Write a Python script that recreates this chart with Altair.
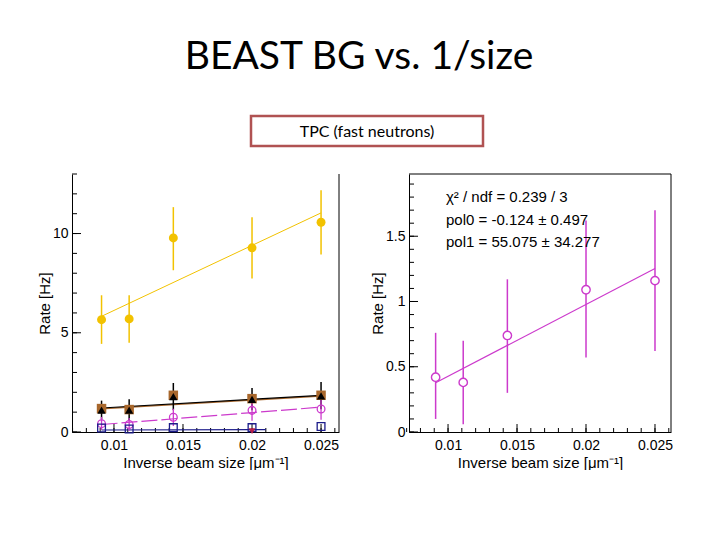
import altair as alt
import pandas as pd

# ---------------- data ----------------
x_vals = [0.0091, 0.0111, 0.0143, 0.0200, 0.0250]

yellow_y = [5.66, 5.70, 9.78, 9.28, 10.57]
yellow_lo = [4.44, 4.50, 8.15, 7.73, 8.94]
yellow_hi = [6.89, 6.89, 11.33, 10.82, 12.18]

brown_y = [1.18, 1.13, 1.85, 1.68, 1.85]

black_y = [1.10, 1.10, 1.78, 1.65, 1.82]
black_lo = [0.62, 0.58, 1.10, 1.10, 1.15]
black_hi = [1.58, 1.65, 2.47, 2.22, 2.52]

mag_y = [0.42, 0.38, 0.74, 1.09, 1.16]
mag_lo = [0.10, 0.06, 0.30, 0.57, 0.62]
mag_hi = [0.76, 0.70, 1.17, 1.62, 1.70]

blue_y = [0.20, 0.15, 0.22, 0.22, 0.28]

red_x = [0.0200]
red_y = [0.04]

fit_x = [0.0091, 0.0250]
yellow_fit_y = [5.83, 11.04]
black_fit_y = [1.21, 1.85]
brown_fit_y = [1.17, 1.81]
blue_fit_x = [0.0091, 0.0210]
blue_fit_y = [0.10, 0.12]

tpc_pol0 = -0.124
tpc_pol1 = 55.075
stats_lines = ["χ² / ndf = 0.239 / 3",
               "pol0 = -0.124 ± 0.497",
               "pol1 = 55.075 ± 34.277"]

x_labels = [0.01, 0.015, 0.02, 0.025]
x_minor = [round(0.007 + 0.001 * i, 3) for i in range(20)]
left_y_labels = [0, 5, 10]
left_y_minor = list(range(0, 14))
right_y_labels = [0, 0.5, 1, 1.5]
right_y_minor = [round(0.1 * i, 1) for i in range(20)]

main_title = "BEAST BG vs. 1/size"
box_title = "TPC (fast neutrons)"
x_title = "Inverse beam size [μm⁻¹]"
y_title = "Rate [Hz]"

# ---------------- styling ----------------
FONT = "Liberation Sans"
W_L, W_R, H = 267, 262, 258
YELLOW = "#f2c200"
MAG = "#cc3acc"
BROWN = "#a8672c"
NAVY = "#1c1c8a"
RED = "#b8204a"


def df(**cols):
    return pd.DataFrame(cols)


def make_panel(width, xdom, ydom, ylabels, yminor):
    xs = alt.Scale(domain=xdom, nice=False, zero=False)
    ys = alt.Scale(domain=ydom, nice=False, zero=False)
    xa = alt.Axis(values=x_labels, format="~r", ticks=False, grid=False,
                  domain=True, domainColor="black", domainWidth=1,
                  labelFont=FONT, labelFontSize=14, labelColor="black",
                  labelPadding=6, title=x_title, titleFont=FONT,
                  titleFontSize=15, titleFontWeight="normal",
                  titleColor="black", titlePadding=3)
    ya = alt.Axis(values=ylabels, format="~r", ticks=False, grid=False,
                  domain=True, domainColor="black", domainWidth=1,
                  labelFont=FONT, labelFontSize=14, labelColor="black",
                  labelPadding=4, title=y_title, titleFont=FONT,
                  titleFontSize=15, titleFontWeight="normal",
                  titleColor="black", titlePadding=0)

    def X(f="x"):
        return alt.X(f"{f}:Q", scale=xs, axis=xa)

    def Y(f="y"):
        return alt.Y(f"{f}:Q", scale=ys, axis=ya)

    layers = []
    # inside ticks (ROOT style)
    layers.append(alt.Chart(df(y=yminor)).mark_rule(color="black", strokeWidth=1)
                  .encode(y=Y(), x=alt.value(0), x2=alt.value(5)))
    layers.append(alt.Chart(df(y=ylabels)).mark_rule(color="black", strokeWidth=1)
                  .encode(y=Y(), x=alt.value(0), x2=alt.value(9)))
    layers.append(alt.Chart(df(x=x_minor)).mark_rule(color="black", strokeWidth=1)
                  .encode(x=X(), y=alt.value(H), y2=alt.value(H - 4)))
    layers.append(alt.Chart(df(x=x_labels)).mark_rule(color="black", strokeWidth=1)
                  .encode(x=X(), y=alt.value(H), y2=alt.value(H - 8)))
    # right frame line
    layers.append(alt.Chart(df(a=[0])).mark_rule(color="black", strokeWidth=1)
                  .encode(x=alt.value(width), y=alt.value(0), y2=alt.value(H)))
    return X, Y, layers


# ---------------- left panel ----------------
X, Y, L = make_panel(W_L, [0.00696, 0.0263], [0, 13.0], left_y_labels, left_y_minor)

L.append(alt.Chart(df(x=fit_x, y=brown_fit_y)).mark_line(color=BROWN, strokeWidth=1.5)
         .encode(x=X(), y=Y()))
L.append(alt.Chart(df(x=fit_x, y=black_fit_y)).mark_line(color="black", strokeWidth=1.2)
         .encode(x=X(), y=Y()))
L.append(alt.Chart(df(x=fit_x, y=yellow_fit_y)).mark_line(color=YELLOW, strokeWidth=1)
         .encode(x=X(), y=Y()))
mag_fit_y = [tpc_pol0 + tpc_pol1 * v for v in fit_x]
L.append(alt.Chart(df(x=fit_x, y=mag_fit_y)).mark_line(color=MAG, strokeWidth=1.2,
                                                        strokeDash=[16, 4])
         .encode(x=X(), y=Y()))
L.append(alt.Chart(df(x=blue_fit_x, y=blue_fit_y)).mark_line(color=NAVY, strokeWidth=1.2)
         .encode(x=X(), y=Y()))

# error bars
L.append(alt.Chart(df(x=x_vals, lo=yellow_lo, hi=yellow_hi)).mark_rule(color=YELLOW, strokeWidth=1.5)
         .encode(x=X(), y=Y("lo"), y2="hi:Q"))
L.append(alt.Chart(df(x=x_vals, lo=black_lo, hi=black_hi)).mark_rule(color="black", strokeWidth=1.5)
         .encode(x=X(), y=Y("lo"), y2="hi:Q"))
L.append(alt.Chart(df(x=x_vals, lo=mag_lo, hi=mag_hi)).mark_rule(color=MAG, strokeWidth=1.3)
         .encode(x=X(), y=Y("lo"), y2="hi:Q"))

# markers
L.append(alt.Chart(df(x=x_vals, y=yellow_y)).mark_point(shape="circle", filled=True, size=80,
                                                         color=YELLOW, opacity=1)
         .encode(x=X(), y=Y()))
L.append(alt.Chart(df(x=x_vals, y=brown_y)).mark_point(shape="square", filled=True, size=90,
                                                        color=BROWN, opacity=1)
         .encode(x=X(), y=Y()))
L.append(alt.Chart(df(x=x_vals, y=black_y)).mark_point(shape="triangle-up", filled=True, size=70,
                                                        color="black", opacity=1)
         .encode(x=X(), y=Y()))
L.append(alt.Chart(df(x=x_vals, y=mag_y)).mark_point(shape="circle", filled=False, size=60,
                                                      color=MAG, strokeWidth=1.3, opacity=1)
         .encode(x=X(), y=Y()))
L.append(alt.Chart(df(x=x_vals, y=blue_y)).mark_point(shape="square", filled=False, size=60,
                                                       color=NAVY, strokeWidth=1.3, opacity=1)
         .encode(x=X(), y=Y()))
L.append(alt.Chart(df(x=red_x, y=red_y)).mark_point(shape="triangle-down", filled=True, size=45,
                                                     color=RED, opacity=1)
         .encode(x=X(), y=Y()))

left = alt.layer(*L).properties(width=W_L, height=H)

# ---------------- right panel ----------------
X2, Y2, R = make_panel(W_R, [0.00717, 0.02616], [0, 1.977], right_y_labels, right_y_minor)
# top frame line
R.append(alt.Chart(df(a=[0])).mark_rule(color="black", strokeWidth=1)
         .encode(x=alt.value(0), x2=alt.value(W_R), y=alt.value(0)))
R.append(alt.Chart(df(x=fit_x, y=mag_fit_y)).mark_line(color=MAG, strokeWidth=1.2)
         .encode(x=X2(), y=Y2()))
R.append(alt.Chart(df(x=x_vals, lo=mag_lo, hi=mag_hi)).mark_rule(color=MAG, strokeWidth=1.5)
         .encode(x=X2(), y=Y2("lo"), y2="hi:Q"))
R.append(alt.Chart(df(x=x_vals, y=mag_y)).mark_point(shape="circle", filled=True, size=70,
                                                      fill="white", stroke=MAG, strokeWidth=1.4,
                                                      opacity=1)
         .encode(x=X2(), y=Y2()))
for i, line in enumerate(stats_lines):
    R.append(alt.Chart(df(t=[line])).mark_text(font=FONT, fontSize=15, color="black",
                                                align="left", baseline="middle")
             .encode(text="t:N", x=alt.value(37), y=alt.value(23 + 22.5 * i)))

right = alt.layer(*R).properties(width=W_R, height=H)

# ---------------- header (slide title + box) ----------------
OX = 73  # page x of header origin (aligned with left plot)
OY = 8   # page y of header origin
HW = 600
header = alt.layer(
    alt.Chart(df(t=[main_title])).mark_text(font="Lato", fontSize=39, color="black",
                                             align="center", baseline="alphabetic")
    .encode(text="t:N", x=alt.value(360 - OX), y=alt.value(69 - OY)),
    alt.Chart(df(a=[0])).mark_rect(fill="white", stroke="#b05252", strokeWidth=2.5)
    .encode(x=alt.value(252 - OX), x2=alt.value(484 - OX),
            y=alt.value(116 - OY), y2=alt.value(146 - OY)),
    alt.Chart(df(t=[box_title])).mark_text(font="Lato", fontSize=16, color="black",
                                            align="center", baseline="alphabetic")
    .encode(text="t:N", x=alt.value(368 - OX), y=alt.value(137 - OY)),
).properties(width=HW, height=165)

panels = alt.hconcat(left, right, spacing=30)
chart = alt.vconcat(header, panels, spacing=0).properties(
    padding={"left": 29, "top": 0, "right": 0, "bottom": 0},
    background="white",
).configure_view(strokeWidth=0, strokeOpacity=0)

chart.save("out.html", embed_options={"renderer": "svg", "actions": False})
